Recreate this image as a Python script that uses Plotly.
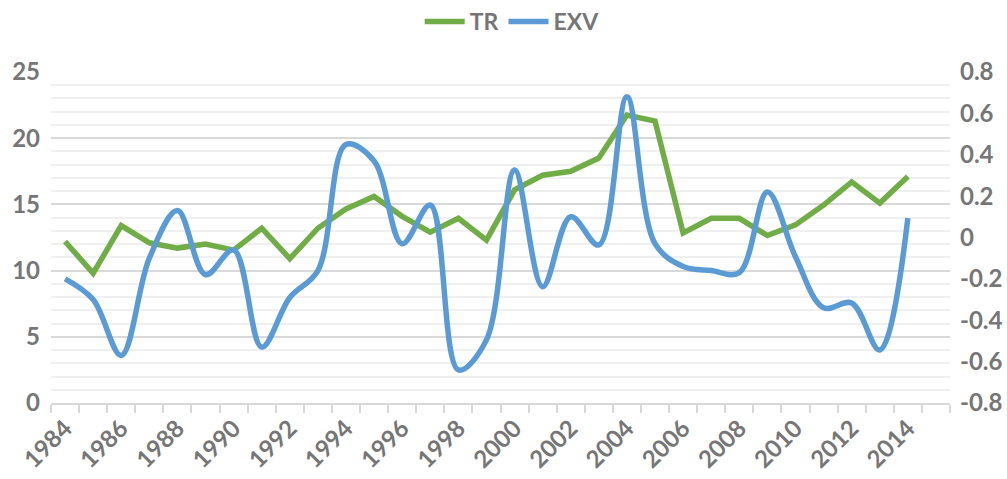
import plotly.graph_objects as go

years = list(range(1984, 2015))
tr = [12.2, 9.8, 13.4, 12.1, 11.7, 12.0, 11.55, 13.2, 10.9, 13.2, 14.65, 15.6, 14.1, 12.9, 13.95, 12.3,
      16.1, 17.2, 17.5, 18.5, 21.75, 21.3, 12.85, 13.95, 13.95, 12.65, 13.45, 14.95, 16.7, 15.1, 17.1]
exv = [-0.2, -0.30, -0.57, -0.1, 0.13, -0.18, -0.06, -0.53, -0.29, -0.16, 0.45, 0.37, -0.03, 0.157, -0.64, -0.495,
       0.326, -0.238, 0.10, -0.036, 0.68, -0.03, -0.14, -0.16, -0.17, 0.22, -0.093, -0.34, -0.317, -0.544, 0.094]
x_labels = [str(y) for y in range(1984, 2016, 2)]
left_ticks = [0, 5, 10, 15, 20, 25]
right_ticks = [-0.8, -0.6, -0.4, -0.2, 0, 0.2, 0.4, 0.6, 0.8]

GREEN = "#70ad47"
BLUE = "#5b9bd5"
TXT = "#767676"
FONT = dict(family="Lato", size=24, color=TXT, weight="bold")

fig = go.Figure()
fig.add_trace(go.Scatter(x=years, y=tr, name="TR", mode="lines",
                         line=dict(color=GREEN, width=5.5), yaxis="y"))
fig.add_trace(go.Scatter(x=years, y=exv, name="EXV", mode="lines",
                         line=dict(color=BLUE, width=5.5, shape="spline", smoothing=1), yaxis="y2"))

fig.update_layout(
    width=1007, height=479,
    margin=dict(l=51, r=57, t=72, b=76),
    paper_bgcolor="white", plot_bgcolor="white",
    font=FONT,
    showlegend=True,
    legend=dict(orientation="h", x=0.513, xanchor="center", yref="container", y=1.0, yanchor="top",
                font=dict(family="Lato", size=23, color=TXT, weight="bold"), itemwidth=40),
    xaxis=dict(
        range=[1983.5, 2015.5], automargin=False,
        tickmode="array", tickvals=[int(v) for v in x_labels], ticktext=x_labels,
        tickangle=-45, ticks="", showgrid=False,
        showline=True, linecolor="#d9d9d9", linewidth=1.5,
        zeroline=False,
        minor=dict(tickmode="linear", tick0=1983.5, dtick=1, ticks="outside", ticklen=8,
                   tickcolor="#d9d9d9", tickwidth=1.5, showgrid=False),
        tickfont=FONT,
    ),
    yaxis=dict(
        range=[0, 25], automargin=False, tickmode="array", tickvals=left_ticks,
        ticktext=[str(v) for v in left_ticks],
        showgrid=True, gridcolor="#d9d9d9", gridwidth=1.5, zeroline=False,
        minor=dict(tickmode="linear", tick0=0, dtick=1, showgrid=True, gridcolor="#f0f0f0", gridwidth=1.5),
        ticks="", ticklabelstandoff=10, tickfont=FONT,
    ),
    yaxis2=dict(
        range=[-0.8, 0.8], automargin=False, overlaying="y", side="right", tickmode="array",
        tickvals=right_ticks,
        ticktext=[("%g" % v).replace("\u2212", "-") for v in right_ticks],
        showgrid=False, zeroline=False, ticks="", ticklabelstandoff=9, tickfont=FONT,
    ),
)

fig.write_html("out.html", config={"displayModeBar": False},
               post_script="document.body.style.margin='0';document.body.style.padding='0';")
